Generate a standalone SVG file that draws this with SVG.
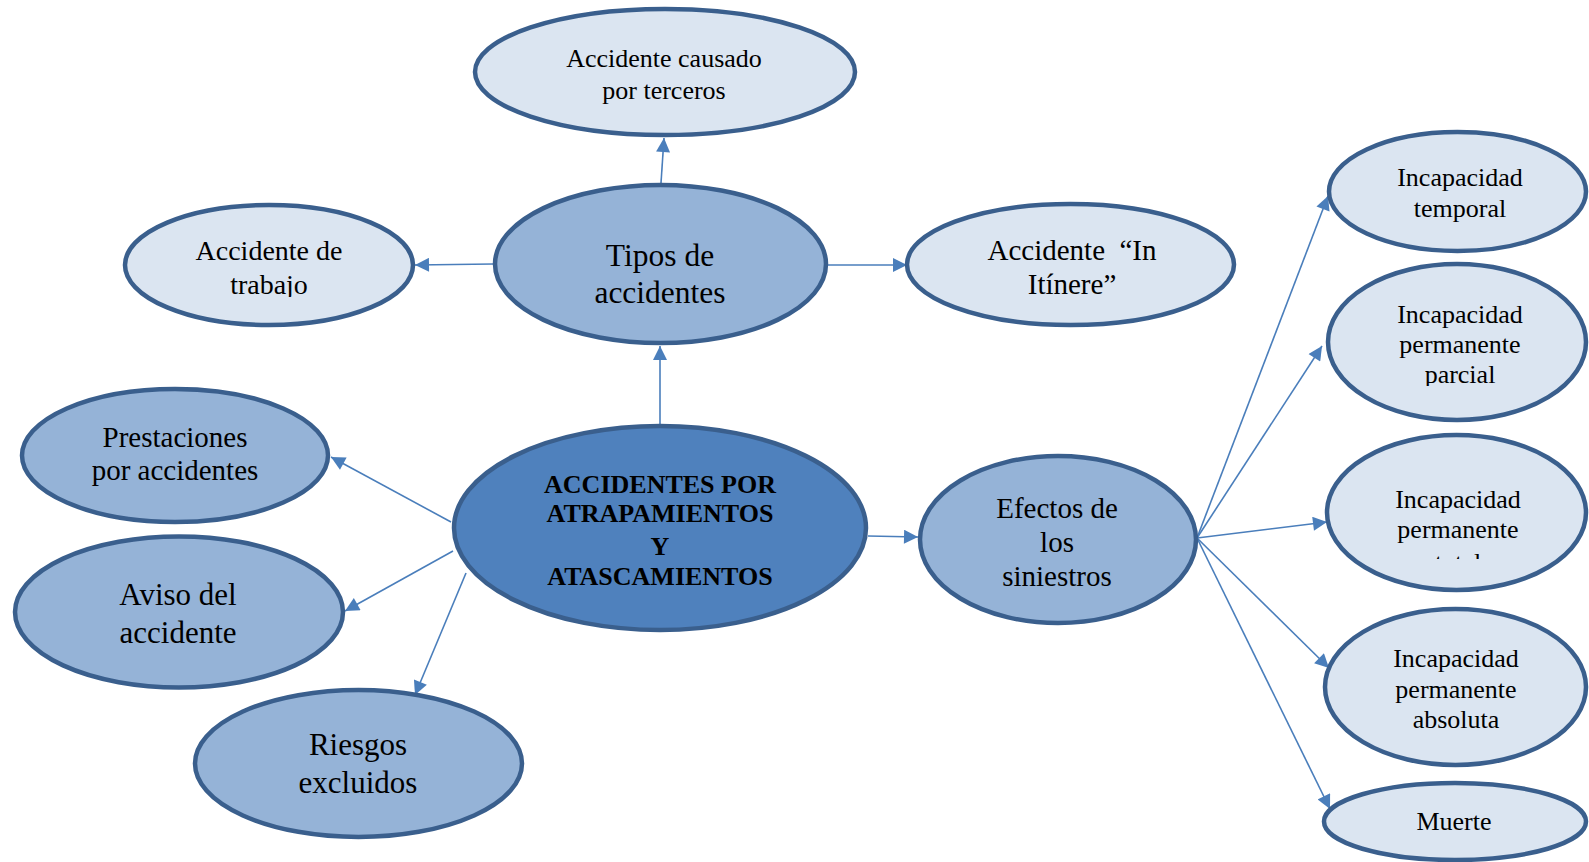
<svg xmlns="http://www.w3.org/2000/svg" width="1589" height="862" viewBox="0 0 1589 862">
  <style>
    .node { stroke: #3a5f8d; stroke-width: 4.5; }
    .light { fill: #dbe5f1; }
    .mid { fill: #95b3d7; }
    .core { fill: #4f81bd; }
    .lbl { font-family: "Liberation Serif", "Times New Roman", serif; fill: #000; text-anchor: middle; }
    .s26 { font-size: 26px; }
    .s28 { font-size: 28px; }
    .s29 { font-size: 29px; }
    .s31 { font-size: 31px; }
    .s32 { font-size: 31.5px; }
    .bold { font-weight: bold; font-size: 26px; }
    .link { stroke: #4a7ebb; stroke-width: 1.6; fill: none; marker-end: url(#arrow); }
  </style>
  <defs>
    <marker id="arrow" viewBox="0 0 15 15" markerUnits="userSpaceOnUse" markerWidth="15" markerHeight="14" refX="15" refY="7.5" orient="auto">
      <path d="M0,0 L15,7.5 L0,15 Z" fill="#4a7ebb"/>
    </marker>
    <!-- text boxes that cut off their last line -->
    <clipPath id="clipTrabajo"><rect x="100" y="200" width="340" height="97"/></clipPath>
    <clipPath id="clipParcial"><rect x="1320" y="260" width="269" height="126"/></clipPath>
    <clipPath id="clipTotal"><rect x="1320" y="430" width="269" height="129"/></clipPath>
  </defs>

  <rect width="1589" height="862" fill="#ffffff"/>

  <g id="connectors">
    <line class="link" x1="661" y1="183" x2="664" y2="138"/>
    <line class="link" x1="493" y1="264" x2="415" y2="265"/>
    <line class="link" x1="828" y1="265" x2="907" y2="265"/>
    <line class="link" x1="660" y1="426" x2="660" y2="346"/>
    <line class="link" x1="868" y1="536" x2="918" y2="537"/>
    <line class="link" x1="451" y1="522" x2="331" y2="457"/>
    <line class="link" x1="453" y1="551" x2="345" y2="611"/>
    <line class="link" x1="466" y1="573" x2="415" y2="695"/>
    <line class="link" x1="1197" y1="538" x2="1328" y2="196"/>
    <line class="link" x1="1197" y1="538" x2="1322" y2="346"/>
    <line class="link" x1="1197" y1="538" x2="1327" y2="522"/>
    <line class="link" x1="1197" y1="538" x2="1329" y2="668"/>
    <line class="link" x1="1197" y1="538" x2="1330" y2="809"/>
  </g>

  <g id="node-terceros">
    <ellipse class="node light" cx="665" cy="72" rx="190" ry="63"/>
    <text class="lbl s26" x="664" y="67">Accidente causado</text>
    <text class="lbl s26" x="664" y="99">por terceros</text>
  </g>

  <g id="node-trabajo">
    <ellipse class="node light" cx="269" cy="265" rx="144" ry="60"/>
    <g clip-path="url(#clipTrabajo)">
      <text class="lbl s28" x="269" y="260">Accidente de</text>
      <text class="lbl s28" x="269" y="294">trabajo</text>
    </g>
  </g>

  <g id="node-tipos">
    <ellipse class="node mid" cx="660.5" cy="264" rx="165.5" ry="79"/>
    <text class="lbl s32" x="660" y="266">Tipos de</text>
    <text class="lbl s32" x="660" y="303">accidentes</text>
  </g>

  <g id="node-itinere">
    <ellipse class="node light" cx="1070.5" cy="264.5" rx="163.5" ry="60.5"/>
    <text class="lbl s29" x="1072" y="260" xml:space="preserve">Accidente  “In</text>
    <text class="lbl s29" x="1072" y="294">Itínere”</text>
  </g>

  <g id="node-central">
    <ellipse class="node core" cx="660" cy="528" rx="206" ry="102"/>
    <text class="lbl bold" x="660" y="493">ACCIDENTES POR</text>
    <text class="lbl bold" x="660" y="522">ATRAPAMIENTOS</text>
    <text class="lbl bold" x="660" y="555">Y</text>
    <text class="lbl bold" x="660" y="585">ATASCAMIENTOS</text>
  </g>

  <g id="node-prestaciones">
    <ellipse class="node mid" cx="175" cy="455.5" rx="153" ry="66.5"/>
    <text class="lbl s29" x="175" y="447">Prestaciones</text>
    <text class="lbl s29" x="175" y="480">por accidentes</text>
  </g>

  <g id="node-aviso">
    <ellipse class="node mid" cx="179" cy="612" rx="164" ry="75.5"/>
    <text class="lbl s31" x="178" y="605">Aviso del</text>
    <text class="lbl s31" x="178" y="643">accidente</text>
  </g>

  <g id="node-riesgos">
    <ellipse class="node mid" cx="358.5" cy="763.5" rx="163.5" ry="73.5"/>
    <text class="lbl s31" x="358" y="755">Riesgos</text>
    <text class="lbl s31" x="358" y="793">excluidos</text>
  </g>

  <g id="node-efectos">
    <ellipse class="node mid" cx="1058" cy="539.5" rx="138" ry="83.5"/>
    <text class="lbl s29" x="1057" y="518">Efectos de</text>
    <text class="lbl s29" x="1057" y="552">los</text>
    <text class="lbl s29" x="1057" y="586">siniestros</text>
  </g>

  <g id="node-temporal">
    <ellipse class="node light" cx="1457.5" cy="191.5" rx="128.5" ry="59.5"/>
    <text class="lbl s26" x="1460" y="186">Incapacidad</text>
    <text class="lbl s26" x="1460" y="217">temporal</text>
  </g>

  <g id="node-parcial">
    <ellipse class="node light" cx="1457" cy="342" rx="129" ry="78"/>
    <g clip-path="url(#clipParcial)">
      <text class="lbl s26" x="1460" y="323">Incapacidad</text>
      <text class="lbl s26" x="1460" y="353">permanente</text>
      <text class="lbl s26" x="1460" y="383">parcial</text>
    </g>
  </g>

  <g id="node-total">
    <ellipse class="node light" cx="1456.5" cy="512.5" rx="129.5" ry="77.5"/>
    <g clip-path="url(#clipTotal)">
      <text class="lbl s26" x="1458" y="508">Incapacidad</text>
      <text class="lbl s26" x="1458" y="538">permanente</text>
      <text class="lbl s26" x="1458" y="571">total</text>
    </g>
  </g>

  <g id="node-absoluta">
    <ellipse class="node light" cx="1455.5" cy="687" rx="130.5" ry="78"/>
    <text class="lbl s26" x="1456" y="667">Incapacidad</text>
    <text class="lbl s26" x="1456" y="698">permanente</text>
    <text class="lbl s26" x="1456" y="728">absoluta</text>
  </g>

  <g id="node-muerte">
    <ellipse class="node light" cx="1455" cy="821.5" rx="131" ry="38.5"/>
    <text class="lbl s26" x="1454" y="830">Muerte</text>
  </g>
</svg>
